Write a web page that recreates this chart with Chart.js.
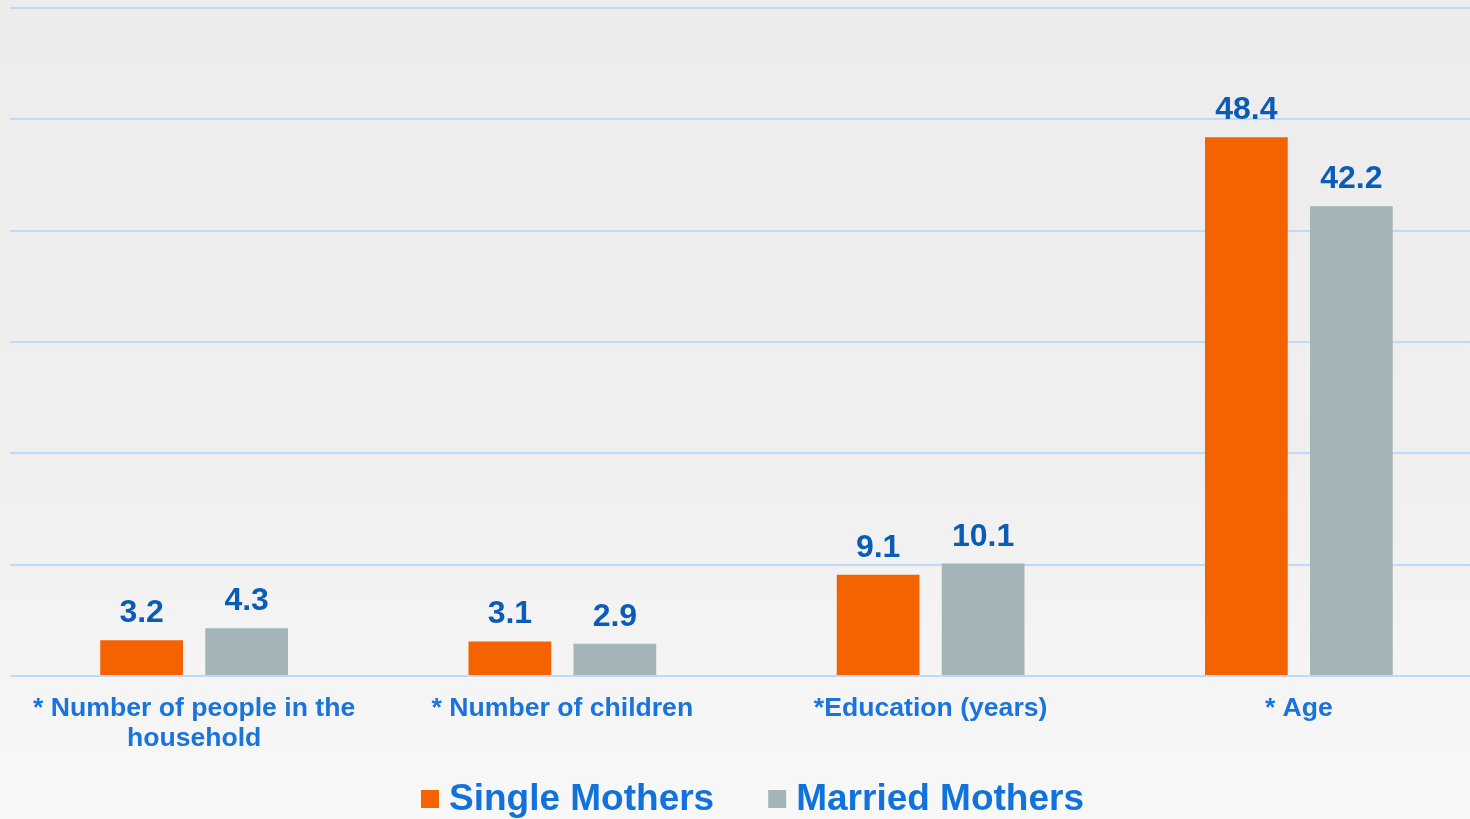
<!DOCTYPE html>
<html>
<head>
<meta charset="utf-8">
<script src="https://cdn.jsdelivr.net/npm/chart.js@4/dist/chart.umd.min.js"></script>
<style>
  html, body { margin: 0; padding: 0; overflow: hidden; width: 1470px; height: 819px; }
  body { background: linear-gradient(to bottom, #ececec 0%, #efefef 55%, #f8f8f8 100%); }
  #wrap { position: absolute; left: 0; top: 0; width: 1483px; height: 819px; }
</style>
</head>
<body>
<div id="wrap"><canvas id="c"></canvas></div>
<script>
const categories = [
  ["* Number of people in the", "household"],
  "* Number of children",
  "*Education (years)",
  "* Age"
];
const seriesNames = ["Single Mothers", "Married Mothers"];
const singleMothers = [3.2, 3.1, 9.1, 48.4];
const marriedMothers = [4.3, 2.9, 10.1, 42.2];
const seriesColors = ["#f46300", "#a4b5b8"];
const yMax = 60;
const yStep = 10;

const FONT = "'Liberation Sans', Arial, sans-serif";

const valueLabels = {
  id: 'valueLabels',
  afterDatasetsDraw(chart) {
    const ctx = chart.ctx;
    ctx.save();
    ctx.font = "bold 32px " + FONT;
    ctx.fillStyle = "#0b5cb6";
    ctx.textAlign = "center";
    ctx.textBaseline = "alphabetic";
    chart.data.datasets.forEach((ds, di) => {
      const meta = chart.getDatasetMeta(di);
      meta.data.forEach((bar, i) => {
        ctx.fillText(ds.data[i].toFixed(1), bar.x, bar.y - 18);
      });
    });
    ctx.restore();
  }
};

const customLegend = {
  id: 'customLegend',
  afterDraw(chart) {
    const ctx = chart.ctx;
    ctx.save();
    ctx.font = "bold 37px " + FONT;
    const box = 18, gapText = 10, gapItem = 54;
    const items = chart.data.datasets.map(ds => ({ text: ds.label, color: ds.backgroundColor, w: ctx.measureText(ds.label).width }));
    let total = 0;
    items.forEach((it, i) => { total += box + gapText + it.w + (i ? gapItem : 0); });
    let x = 752.5 - total / 2;
    const cy = 800;
    items.forEach((it) => {
      ctx.fillStyle = it.color;
      ctx.fillRect(x, cy - box / 2 - 1, box, box);
      x += box + gapText;
      ctx.fillStyle = "#1272dc";
      ctx.textAlign = "left";
      ctx.textBaseline = "middle";
      ctx.fillText(it.text, x, cy);
      x += it.w + gapItem;
    });
    ctx.restore();
  }
};

new Chart(document.getElementById('c'), {
  type: 'bar',
  data: {
    labels: categories,
    datasets: [
      { label: seriesNames[0], data: singleMothers, backgroundColor: seriesColors[0] },
      { label: seriesNames[1], data: marriedMothers, backgroundColor: seriesColors[1] }
    ]
  },
  options: {
    responsive: true,
    maintainAspectRatio: false,
    animation: false,
    layout: { padding: { top: 8, left: 10, right: 0, bottom: 47 } },
    datasets: { bar: { categoryPercentage: 0.5703, barPercentage: 0.788 } },
    plugins: { legend: { display: false }, tooltip: { enabled: false } },
    scales: {
      x: {
        grid: { display: false, drawTicks: false },
        border: { display: false },
        ticks: {
          color: "#1a74dc",
          font: { family: FONT, size: 26.6, weight: 'bold', lineHeight: 30 / 26.6 },
          padding: 18,
          maxRotation: 0,
          autoSkip: false
        }
      },
      y: {
        min: 0,
        max: yMax,
        ticks: { display: false, stepSize: yStep },
        grid: { color: "#bfdaf6", lineWidth: 2, drawTicks: false },
        border: { display: false }
      }
    }
  },
  plugins: [valueLabels, customLegend]
});
</script>
</body>
</html>
